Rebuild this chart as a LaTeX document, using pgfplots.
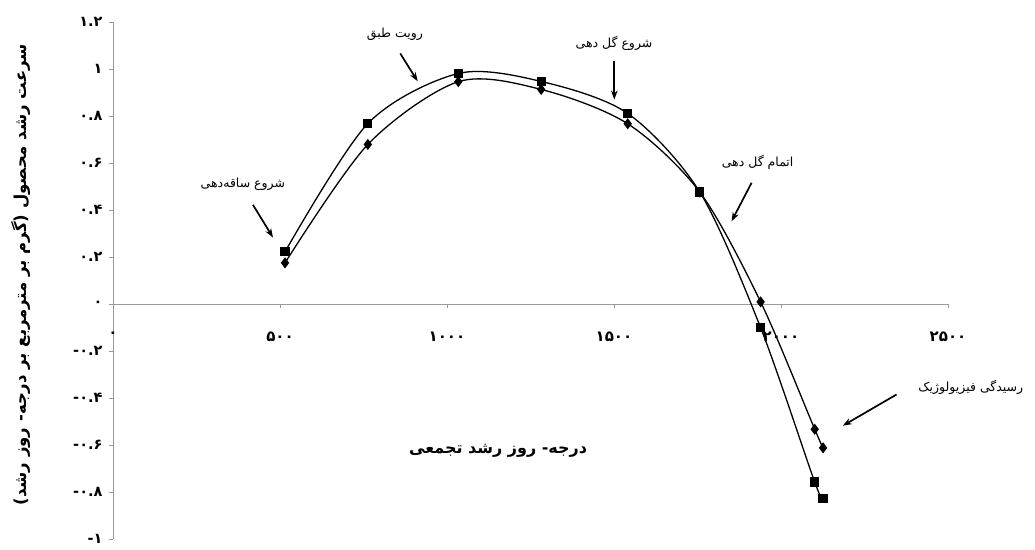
\documentclass[border=0pt]{standalone}
\usepackage{fontspec}
\usepackage{pgfplots}
\pgfplotsset{compat=1.18}
\usetikzlibrary{arrows.meta}
\setmainfont{DejaVu Sans}
\newfontfamily\fa[Script=Arabic]{DejaVu Sans}
\TeXXeTstate=1

\pgfplotstableread{
x     y
515   0.222
763   0.768
1034  0.981
1282  0.947
1541  0.811
1757  0.476
1939  -0.101
2101  -0.758
2126  -0.828
}\squares
\pgfplotstableread{
x     y
515   0.175
763   0.679
1034  0.946
1282  0.913
1541  0.767
1757  0.476
1939  0.009
2101  -0.533
2126  -0.612
}\diamonds

% minus sign kept in its own box so that it stays on the left
\newcommand{\negnum}[1]{\hbox{-}\hbox{#1}}

\tikzset{note/.style={font=\fa\fontsize{12.5}{15}\selectfont},
  pointer/.style={-{Stealth[length=9pt,width=6.5pt]}, line width=1.7pt}}

\begin{document}
\begin{tikzpicture}
\begin{axis}[
  at={(0,0)}, anchor=south west,
  scale only axis, width=835pt, height=517pt,
  xmin=0, xmax=2500, ymin=-1, ymax=1.2,
  axis x line=middle, axis y line=left,
  axis line style={-, black!40, line width=0.6pt},
  tick style={black!40, line width=0.6pt},
  tick align=outside, major tick length=4pt,
  xtick={0,500,1000,1500,2000,2500},
  ytick={-1,-0.8,-0.6,-0.4,-0.2,0,0.2,0.4,0.6,0.8,1,1.2},
  xticklabels={۰,۵۰۰,۱۰۰۰,۱۵۰۰,۲۰۰۰,۲۵۰۰},
  yticklabels={\negnum{۱},\negnum{۰.۸},\negnum{۰.۶},\negnum{۰.۴},\negnum{۰.۲},۰,۰.۲,۰.۴,۰.۶,۰.۸,۱,۱.۲},
  xticklabel style={font=\fa\bfseries\fontsize{15}{17}\selectfont, yshift=-20pt},
  yticklabel style={font=\fa\bfseries\fontsize{14.5}{17}\selectfont, xshift=-3pt},
  hide obscured x ticks=false,
  clip=false,
]
\addplot[black, line width=1.3pt, smooth, mark=square*, mark size=4pt,
  mark options={solid}] table {\squares};
\addplot[black, line width=1.3pt, smooth, mark=diamond*, mark size=4.5pt,
  mark options={solid}] table {\diamonds};

\node[note] at (axis cs:389,0.509) {\beginR شروع ساقه‌دهی\endR};
\draw[pointer] (axis cs:419,0.422) -- (axis cs:479,0.283);
\node[note] at (axis cs:844,1.147) {\beginR رویت طبق\endR};
\draw[pointer] (axis cs:860,1.066) -- (axis cs:912,0.948);
\node[note] at (axis cs:1500,1.108) {\beginR شروع گل دهی\endR};
\draw[pointer] (axis cs:1501,1.033) -- (axis cs:1501,0.870);
\node[note] at (axis cs:1930,0.602) {\beginR اتمام گل دهی\endR};
\draw[pointer] (axis cs:1912,0.516) -- (axis cs:1852,0.352);
\node[note, anchor=west] at (axis cs:2401,-0.355) {\beginR رسیدگی فیزیولوژیک\endR};
\draw[pointer] (axis cs:2346,-0.385) -- (axis cs:2185,-0.518);

\node[font=\fa\bfseries\fontsize{16}{19}\selectfont] at (axis cs:1153,-0.625)
  {\beginR درجه- روز رشد تجمعی\endR};
\node[rotate=90, font=\fa\bfseries\fontsize{16.5}{19}\selectfont]
  at ([xshift=-92pt]axis cs:0,0.125)
  {\beginR سرعت رشد محصول (گرم بر مترمربع بر درجه- روز رشد)\endR};
\end{axis}
\pgfresetboundingbox
\path[use as bounding box] (-113pt,-10pt) rectangle (922pt,539pt);
\end{tikzpicture}
\end{document}
